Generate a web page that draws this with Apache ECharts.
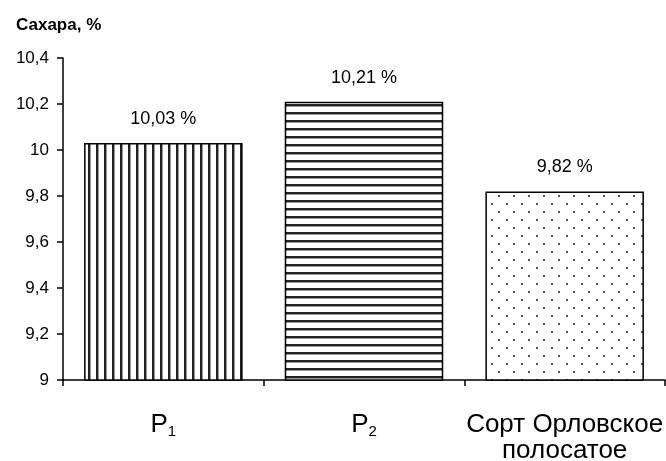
<!DOCTYPE html>
<html><head><meta charset="utf-8">
<script src="https://cdn.jsdelivr.net/npm/echarts@6/dist/echarts.min.js"></script>
<style>html,body{margin:0;padding:0;background:#fff}#c{width:666px;height:461px}</style>
</head><body><div id="c"></div>
<script>
const categories = ['{m|P}{s|1}', '{m|P}{s|2}', '{m|Сорт Орловское}\n{m|полосатое}'];
const values = [10.03, 10.21, 9.82];
const valueLabels = ['10,03 %', '10,21 %', '9,82 %'];
const yTicks = [9, 9.2, 9.4, 9.6, 9.8, 10, 10.2, 10.4];

function mk(w, h, draw) {
  const c = document.createElement('canvas');
  c.width = w; c.height = h;
  const ctx = c.getContext('2d');
  ctx.fillStyle = '#fff'; ctx.fillRect(0, 0, w, h);
  draw(ctx);
  return c;
}
const vPat = mk(8, 8, ctx => { ctx.fillStyle = '#222'; ctx.fillRect(0, 0, 2, 8); ctx.fillStyle='#999'; ctx.fillRect(2,0,1,8); });
const hPat = mk(8, 8, ctx => { ctx.fillStyle = '#222'; ctx.fillRect(0, 0, 8, 2); ctx.fillStyle='#999'; ctx.fillRect(0,2,8,1); });
const dPat = mk(15, 16, ctx => { ctx.fillStyle = '#555'; ctx.fillRect(3, 3, 2, 2); ctx.fillRect(11, 11, 2, 2); });
const pats = [vPat, hPat, dPat];

const F = 'Liberation Sans, Arial';
const chart = echarts.init(document.getElementById('c'), null, {renderer: 'canvas'});
chart.setOption({
  animation: false,
  backgroundColor: '#fff',
  title: {
    text: 'Сахара, %', left: 11, top: 12,
    textStyle: {fontFamily: F, fontSize: 17, fontWeight: 'bold', color: '#000'}
  },
  grid: {left: 63, right: 1, top: 58, bottom: 81, containLabel: false, outerBoundsMode: 'none'},
  xAxis: {
    type: 'category', data: categories,
    axisLine: {lineStyle: {color: '#000', width: 1.5}},
    axisTick: {show: true, alignWithLabel: false, length: 6, lineStyle: {color: '#000', width: 1.5}},
    axisLabel: {
      interval: 0, margin: 32, color: '#000', lineHeight: 26,
      rich: {
        m: {fontFamily: F, fontSize: 26, color: '#000', lineHeight: 26},
        s: {fontFamily: F, fontSize: 15, color: '#000', padding: [13, 0, 0, 0], lineHeight: 26}
      }
    }
  },
  yAxis: {
    type: 'value', min: 9, max: 10.4, interval: 0.2,
    splitLine: {show: false},
    axisLine: {show: true, lineStyle: {color: '#000', width: 1.5}},
    axisTick: {show: true, length: 6, lineStyle: {color: '#000', width: 1.5}},
    axisLabel: {
      color: '#000', fontFamily: F, fontSize: 17, margin: 14,
      formatter: v => { const t = yTicks.find(x => Math.abs(x - v) < 1e-6); return String(+(t ?? v).toFixed(1)).replace('.', ','); }
    }
  },
  series: [{
    type: 'bar', barWidth: '79%',
    data: values.map((v, i) => ({
      value: v,
      itemStyle: {color: {image: pats[i], repeat: 'repeat'}, borderColor: '#000', borderWidth: 1.5},
      label: {formatter: valueLabels[i]}
    })),
    label: {show: true, position: 'top', distance: 15, color: '#000', fontFamily: F, fontSize: 18}
  }]
});
</script></body></html>
